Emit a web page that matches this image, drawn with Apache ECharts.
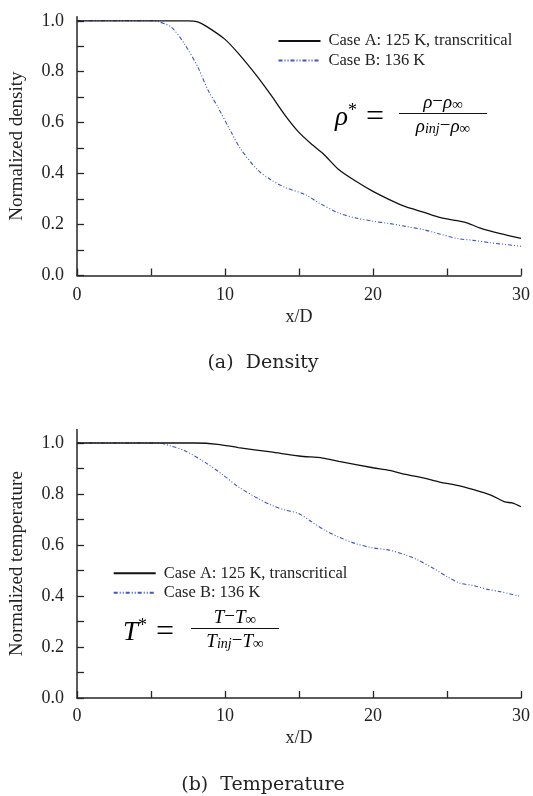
<!DOCTYPE html>
<html>
<head>
<meta charset="utf-8">
<script src="https://cdn.jsdelivr.net/npm/echarts@6/dist/echarts.min.js"></script>
<style>
html,body{margin:0;padding:0;background:#fff;}
#c{width:533px;height:796px;}
</style>
</head>
<body>
<div id="c"></div>
<script>
// ---- data ----
var nameA = 'Case A: 125 K, transcritical';
var nameB = 'Case B: 136 K';

var densAx = [0, 5, 7.5, 8.15, 8.8, 10, 10.9, 12.2, 13.1, 14.05, 14.95, 15.9, 16.6, 17.7, 18.85, 20, 21.1, 22.2, 23.4, 24.5, 25.7, 26.4, 27.2, 28.6, 30];
var densAy = [1.0, 1.0, 1.0, 0.996, 0.976, 0.927, 0.872, 0.78, 0.709, 0.63, 0.565, 0.513, 0.48, 0.415, 0.37, 0.33, 0.298, 0.27, 0.249, 0.228, 0.215, 0.206, 0.187, 0.164, 0.146];

var densBx = [0, 5, 5.4, 6.35, 7.25, 8.15, 8.85, 9.5, 10.45, 11.1, 12.2, 13.1, 14.05, 15.45, 16.35, 17.7, 18.85, 20, 21.1, 22.2, 23.4, 24.5, 25.7, 26.8, 28, 30];
var densBy = [1.0, 1.0, 0.998, 0.976, 0.91, 0.82, 0.728, 0.663, 0.559, 0.493, 0.415, 0.376, 0.346, 0.317, 0.285, 0.245, 0.226, 0.213, 0.204, 0.193, 0.18, 0.163, 0.145, 0.138, 0.128, 0.115];

var tempAx = [0, 5, 8, 9.5, 10.9, 13.1, 15, 16.6, 17.7, 20, 21.1, 22.2, 23.4, 24.5, 25.7, 26.8, 28, 28.9, 29.4, 30];
var tempAy = [1.0, 1.0, 1.0, 0.995, 0.982, 0.965, 0.949, 0.941, 0.928, 0.903, 0.893, 0.877, 0.863, 0.847, 0.834, 0.817, 0.795, 0.769, 0.765, 0.75];

var tempBx = [0, 5.5, 6.35, 7.25, 8.6, 9.75, 10.9, 12.25, 13.15, 14.05, 14.95, 15.85, 16.75, 17.65, 18.8, 19.95, 21.1, 22.2, 22.9, 24.1, 25, 25.9, 26.8, 27.75, 28.6, 30];
var tempBy = [1.0, 1.0, 0.988, 0.971, 0.926, 0.88, 0.828, 0.782, 0.756, 0.737, 0.724, 0.691, 0.658, 0.632, 0.606, 0.589, 0.58, 0.561, 0.545, 0.508, 0.476, 0.45, 0.441, 0.426, 0.417, 0.398];

var xTicks = [0, 5, 10, 15, 20, 25, 30];
var xLabels = [0, 10, 20, 30];
var yTicks = [0, 0.1, 0.2, 0.3, 0.4, 0.5, 0.6, 0.7, 0.8, 0.9, 1.0];
var yLabels = [0, 0.2, 0.4, 0.6, 0.8, 1.0];

// ---- helpers ----
function zip(xs, ys){ return xs.map(function(x,i){ return [x, ys[i]]; }); }
var SERIF = 'Liberation Serif';
var AX = '#262626';
var BLUE = '#3d55c8';

function xAxis(gi, gap, lm){
  return {
    type:'value', gridIndex:gi, min:0, max:30,
    name:'x/D', nameLocation:'middle', nameGap:gap,
    nameTextStyle:{fontFamily:SERIF, fontSize:18, color:'#222'},
    axisLine:{show:true, onZero:false, lineStyle:{color:AX, width:1.5}},
    axisTick:{show:true, inside:true, length:7, customValues:xTicks, lineStyle:{color:AX, width:1.3}},
    axisLabel:{customValues:xLabels, margin:lm, fontFamily:SERIF, fontSize:18, color:'#222'},
    splitLine:{show:false}
  };
}
function yAxis(gi, name, mx){
  return {
    type:'value', gridIndex:gi, min:0, max:mx,
    name:name, nameLocation:'middle', nameGap:50, nameRotate:90,
    nameTextStyle:{fontFamily:SERIF, fontSize:19, color:'#222'},
    axisLine:{show:true, onZero:false, lineStyle:{color:AX, width:1.5}},
    axisTick:{show:true, inside:true, length:7, customValues:yTicks, lineStyle:{color:AX, width:1.3}},
    axisLabel:{customValues:yLabels, margin:13, fontFamily:SERIF, fontSize:18, color:'#222',
      formatter:function(v){ return (+v).toFixed(1); }},
    splitLine:{show:false}
  };
}
function lineA(gi, data){
  return {type:'line', name:nameA, xAxisIndex:gi, yAxisIndex:gi, data:data, showSymbol:false, symbol:'none',
    smooth:0.3, lineStyle:{color:'#111', width:1.3}, itemStyle:{color:'#111'}, z:3};
}
function lineB(gi, data){
  return {type:'line', name:nameB, xAxisIndex:gi, yAxisIndex:gi, data:data, showSymbol:false, symbol:'none',
    smooth:0.3, lineStyle:{color:BLUE, width:1.1, type:[4,2,1,2,1,2]}, itemStyle:{color:BLUE}, z:2};
}
function legend(left, top){
  return {
    show:true,
    data:[nameA, nameB], orient:'vertical', left:left, top:top,
    itemWidth:42, itemHeight:14, itemGap:2.5, selectedMode:false,
    itemStyle:{opacity:0},
    textStyle:{fontFamily:SERIF, fontSize:16.5, lineHeight:17, color:'#222', padding:[0,0,0,3]}
  };
}
var mathRich = {
  big:{fontFamily:SERIF, fontStyle:'italic', fontSize:27, color:'#111', lineHeight:30, verticalAlign:'middle'},
  sup:{fontFamily:SERIF, fontSize:18, color:'#111', lineHeight:30, verticalAlign:'top'},
  eq:{fontFamily:SERIF, fontSize:32, color:'#111', lineHeight:30, verticalAlign:'middle', padding:[0,0,0,9]},
  m:{fontFamily:SERIF, fontStyle:'italic', fontSize:19, color:'#111', lineHeight:20, verticalAlign:'middle'},
  o:{fontFamily:SERIF, fontSize:19, color:'#111', lineHeight:20, verticalAlign:'middle'},
  s:{fontFamily:SERIF, fontStyle:'italic', fontSize:14, color:'#111', lineHeight:20, verticalAlign:'bottom'},
  inf:{fontFamily:SERIF, fontSize:15, color:'#111', lineHeight:20, verticalAlign:'bottom'}
};
function formula(x, yc, sym, numTxt, denTxt, off, w){
  return {
    type:'group', left:x, top:yc-24,
    children:[
      {type:'text', x:0, y:28, style:{text:'{big|'+sym+'}{sup|*}{eq|=}', rich:mathRich, verticalAlign:'middle', align:'left'}},
      {type:'text', x:off + w/2, y:13, style:{text:numTxt, rich:mathRich, align:'center', verticalAlign:'middle'}},
      {type:'line', shape:{x1:off, y1:24, x2:off+w, y2:24}, style:{stroke:'#111', lineWidth:1}},
      {type:'text', x:off + w/2, y:37, style:{text:denTxt, rich:mathRich, align:'center', verticalAlign:'middle'}}
    ]
  };
}

var chart = echarts.init(document.getElementById('c'), null, {renderer:'canvas'});
chart.setOption({
  backgroundColor:'#fff',
  animation:false,
  grid:[
    {left:76, right:10, top:16.7, bottom:520.5},
    {left:76, right:10, top:429.5, bottom:98}
  ],
  xAxis:[xAxis(0, 33, 10.5), xAxis(1, 31, 9.5)],
  yAxis:[yAxis(0,'Normalized density', 1.016), yAxis(1,'Normalized temperature', 1.053)],
  legend:[legend(272.5, 27.5), legend(107.7, 559.8)],
  series:[
    lineA(0, zip(densAx, densAy)),
    lineB(0, zip(densBx, densBy)),
    lineA(1, zip(tempAx, tempAy)),
    lineB(1, zip(tempBx, tempBy))
  ],
  graphic:[
    formula(335, 117, 'ρ', '{m|ρ}{o|−}{m|ρ}{inf|∞}', '{m|ρ}{s|inj}{o|−}{m|ρ}{inf|∞}', 64, 88),
    formula(123, 632, 'T', '{m|T}{o|−}{m|T}{inf|∞}', '{m|T}{s|inj}{o|−}{m|T}{inf|∞}', 68, 88),
    {type:'text', x:263, y:363.5, style:{text:'(a)  Density', fontFamily:'DejaVu Serif', fontSize:19, fill:'#222', align:'center', verticalAlign:'middle'}},
    {type:'text', x:263, y:785, style:{text:'(b)  Temperature', fontFamily:'DejaVu Serif', fontSize:19, fill:'#222', align:'center', verticalAlign:'middle'}}
  ]
});
</script>
</body>
</html>
